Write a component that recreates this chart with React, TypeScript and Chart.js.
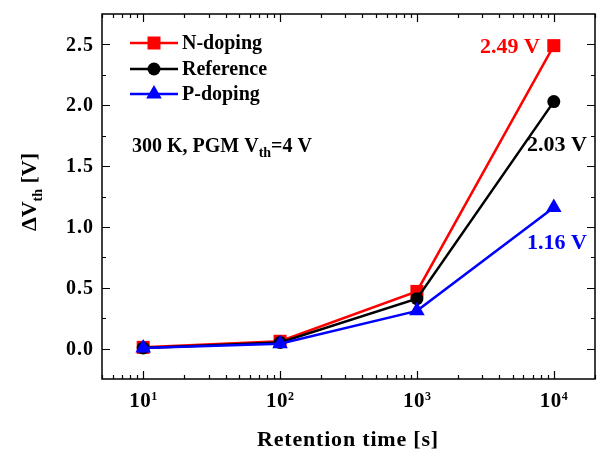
import React, { useEffect, useRef } from "react";
import { Chart, registerables } from "chart.js";

Chart.register(...registerables);

// Retention times (s) and threshold-voltage shift (V) for each doping type
const retentionTimes = [10, 100, 1000, 10000];
const nDoping = [0.01, 0.06, 0.47, 2.49];
const reference = [0.005, 0.05, 0.41, 2.03];
const pDoping = [0.005, 0.04, 0.31, 1.16];

const seriesNames = ["N-doping", "Reference", "P-doping"];
const seriesColors = ["#ff0000", "#000000", "#0000ff"];
const seriesMarkers = ["rect", "circle", "triangle"];

const xDecades = [10, 100, 1000, 10000];
const xDecadeExponents = ["1", "2", "3", "4"];
const yTickValues = [0, 0.5, 1, 1.5, 2, 2.5];
const yTickLabels = ["0.0", "0.5", "1.0", "1.5", "2.0", "2.5"];

const FONT = '"Liberation Serif", "Times New Roman", serif';
const font = (size: number) => `bold ${size}px ${FONT}`;

function drawMarker(ctx: CanvasRenderingContext2D, style: string, x: number, y: number, color: string) {
  ctx.save();
  ctx.fillStyle = color;
  ctx.beginPath();
  if (style === "rect") {
    const s = 6.5;
    ctx.rect(x - s, y - s, 2 * s, 2 * s);
  } else if (style === "circle") {
    ctx.arc(x, y, 6.5, 0, Math.PI * 2);
  } else {
    const r = 9;
    ctx.moveTo(x, y - r);
    ctx.lineTo(x + r * Math.sin((2 * Math.PI) / 3), y - r * Math.cos((2 * Math.PI) / 3));
    ctx.lineTo(x + r * Math.sin((4 * Math.PI) / 3), y - r * Math.cos((4 * Math.PI) / 3));
    ctx.closePath();
  }
  ctx.fill();
  ctx.restore();
}

const framePlugin = {
  id: "frameAndText",
  afterDraw(chart: any) {
    const { ctx, chartArea, scales } = chart;
    const { left, right, top, bottom } = chartArea;
    const xs = scales.x;
    const ys = scales.y;

    ctx.save();
    ctx.strokeStyle = "#000";
    ctx.lineWidth = 1.5;
    ctx.strokeRect(left, top, right - left, bottom - top);

    // inward ticks on the log x axis (top and bottom)
    ctx.lineWidth = 1.2;
    ctx.beginPath();
    for (const d of [1, 10, 100, 1000, 10000]) {
      for (let m = 1; m <= 9; m++) {
        const v = m * d;
        if (v < xs.min || v > xs.max) continue;
        const px = Math.round(xs.getPixelForValue(v)) + 0.5;
        const len = m === 1 ? 8 : 4;
        ctx.moveTo(px, bottom);
        ctx.lineTo(px, bottom - len);
        ctx.moveTo(px, top);
        ctx.lineTo(px, top + len);
      }
    }
    // inward ticks on the y axis (left and right)
    for (let i = -1; i <= 11; i++) {
      const v = i * 0.25;
      if (v <= ys.min || v >= ys.max) continue;
      const py = Math.round(ys.getPixelForValue(v)) + 0.5;
      const len = i % 2 === 0 ? 8 : 4;
      ctx.moveTo(left, py);
      ctx.lineTo(left + len, py);
      ctx.moveTo(right, py);
      ctx.lineTo(right - len, py);
    }
    ctx.stroke();

    ctx.fillStyle = "#000";
    // y tick labels
    ctx.font = font(20);
    ctx.letterSpacing = "1px";
    ctx.textAlign = "right";
    ctx.textBaseline = "middle";
    yTickValues.forEach((v, i) => {
      ctx.fillText(yTickLabels[i], left - 8, ys.getPixelForValue(v) + 1);
    });

    // x tick labels as powers of ten
    ctx.textBaseline = "alphabetic";
    ctx.textAlign = "left";
    xDecades.forEach((v, i) => {
      const px = xs.getPixelForValue(v);
      ctx.font = font(21);
      ctx.letterSpacing = "0.5px";
      const wBase = ctx.measureText("10").width;
      ctx.font = font(12);
      ctx.letterSpacing = "0px";
      const wExp = ctx.measureText(xDecadeExponents[i]).width;
      const x0 = px - (wBase + wExp) / 2;
      ctx.font = font(21);
      ctx.letterSpacing = "0.5px";
      ctx.fillText("10", x0, 407);
      ctx.font = font(12);
      ctx.letterSpacing = "0px";
      ctx.fillText(xDecadeExponents[i], x0 + wBase, 400);
    });

    // x axis title
    ctx.font = font(22);
    ctx.letterSpacing = "0.8px";
    ctx.textAlign = "center";
    ctx.fillText("Retention time [s]", 348, 446);

    // y axis title, rotated, with subscript
    ctx.save();
    ctx.translate(36, 192);
    ctx.rotate(-Math.PI / 2);
    ctx.textAlign = "left";
    ctx.letterSpacing = "0px";
    ctx.font = font(22);
    const wMain = ctx.measureText("\u0394V").width;
    const wTail = ctx.measureText(" [V]").width;
    ctx.font = font(14);
    const wSub = ctx.measureText("th").width;
    const sx = -(wMain + wSub + wTail) / 2;
    ctx.font = font(22);
    ctx.fillText("\u0394V", sx, 0);
    ctx.font = font(14);
    ctx.fillText("th", sx + wMain, 6);
    ctx.font = font(22);
    ctx.fillText(" [V]", sx + wMain + wSub, 0);
    ctx.restore();

    // legend
    const legendRows = [43, 69, 94];
    seriesNames.forEach((name, i) => {
      const y = legendRows[i];
      ctx.strokeStyle = seriesColors[i];
      ctx.lineWidth = 2.5;
      ctx.beginPath();
      ctx.moveTo(130, y);
      ctx.lineTo(178, y);
      ctx.stroke();
      drawMarker(ctx, seriesMarkers[i], 154, y, seriesColors[i]);
      ctx.fillStyle = "#000";
      ctx.font = font(20);
      ctx.letterSpacing = "0px";
      ctx.textAlign = "left";
      ctx.textBaseline = "middle";
      ctx.fillText(name, 182, y + 1);
    });

    // measurement condition note
    ctx.textBaseline = "alphabetic";
    ctx.font = font(20);
    const noteA = "300 K, PGM V";
    const noteB = "=4 V";
    ctx.fillText(noteA, 132, 152);
    const wA = ctx.measureText(noteA).width;
    ctx.font = font(14);
    ctx.fillText("th", 132 + wA, 157);
    const wTh = ctx.measureText("th").width;
    ctx.font = font(20);
    ctx.fillText(noteB, 132 + wA + wTh, 152);

    // end-point value labels
    const lastIdx = retentionTimes.length - 1;
    const xEnd = xs.getPixelForValue(retentionTimes[lastIdx]);
    const endValues = [nDoping[lastIdx], reference[lastIdx], pDoping[lastIdx]];
    const labelOffsets = [
      { dx: -14, dy: 2, align: "right" },
      { dx: 33, dy: 44, align: "right" },
      { dx: 33, dy: 36, align: "right" },
    ];
    ctx.font = font(22);
    ctx.textBaseline = "middle";
    endValues.forEach((v, i) => {
      const py = ys.getPixelForValue(v);
      const o = labelOffsets[i];
      ctx.fillStyle = seriesColors[i];
      ctx.textAlign = o.align as CanvasTextAlign;
      ctx.fillText(`${v.toFixed(2)} V`, xEnd + o.dx, py + o.dy);
    });

    ctx.restore();
  },
};

export default function App() {
  const canvasRef = useRef<HTMLCanvasElement | null>(null);

  useEffect(() => {
    const canvas = canvasRef.current;
    if (!canvas) return;
    const seriesValues = [nDoping, reference, pDoping];
    const chart = new Chart(canvas, {
      type: "line",
      data: {
        datasets: seriesNames.map((name, i) => ({
          label: name,
          data: retentionTimes.map((t, j) => ({ x: t, y: seriesValues[i][j] })),
          borderColor: seriesColors[i],
          backgroundColor: seriesColors[i],
          borderWidth: 2.5,
          pointStyle: seriesMarkers[i] as any,
          pointRadius: i === 0 ? 9.2 : i === 1 ? 6.5 : 9,
          pointBorderWidth: 0,
          pointBackgroundColor: seriesColors[i],
          tension: 0,
          order: 3 - i,
        })),
      },
      options: {
        animation: false,
        responsive: false,
        layout: { autoPadding: false, padding: { left: 102, right: 2, top: 14, bottom: 73 } },
        plugins: {
          legend: { display: false },
          tooltip: { enabled: false },
        },
        scales: {
          x: { type: "logarithmic", min: 5, max: 20000, display: false },
          y: { type: "linear", min: -0.25, max: 2.75, display: false },
        },
      },
      plugins: [framePlugin],
    });
    return () => chart.destroy();
  }, []);

  return (
    <div style={{ position: "fixed", left: 0, top: 0, width: 597, height: 452, background: "#fff" }}>
      <canvas ref={canvasRef} width={597} height={452} />
    </div>
  );
}
